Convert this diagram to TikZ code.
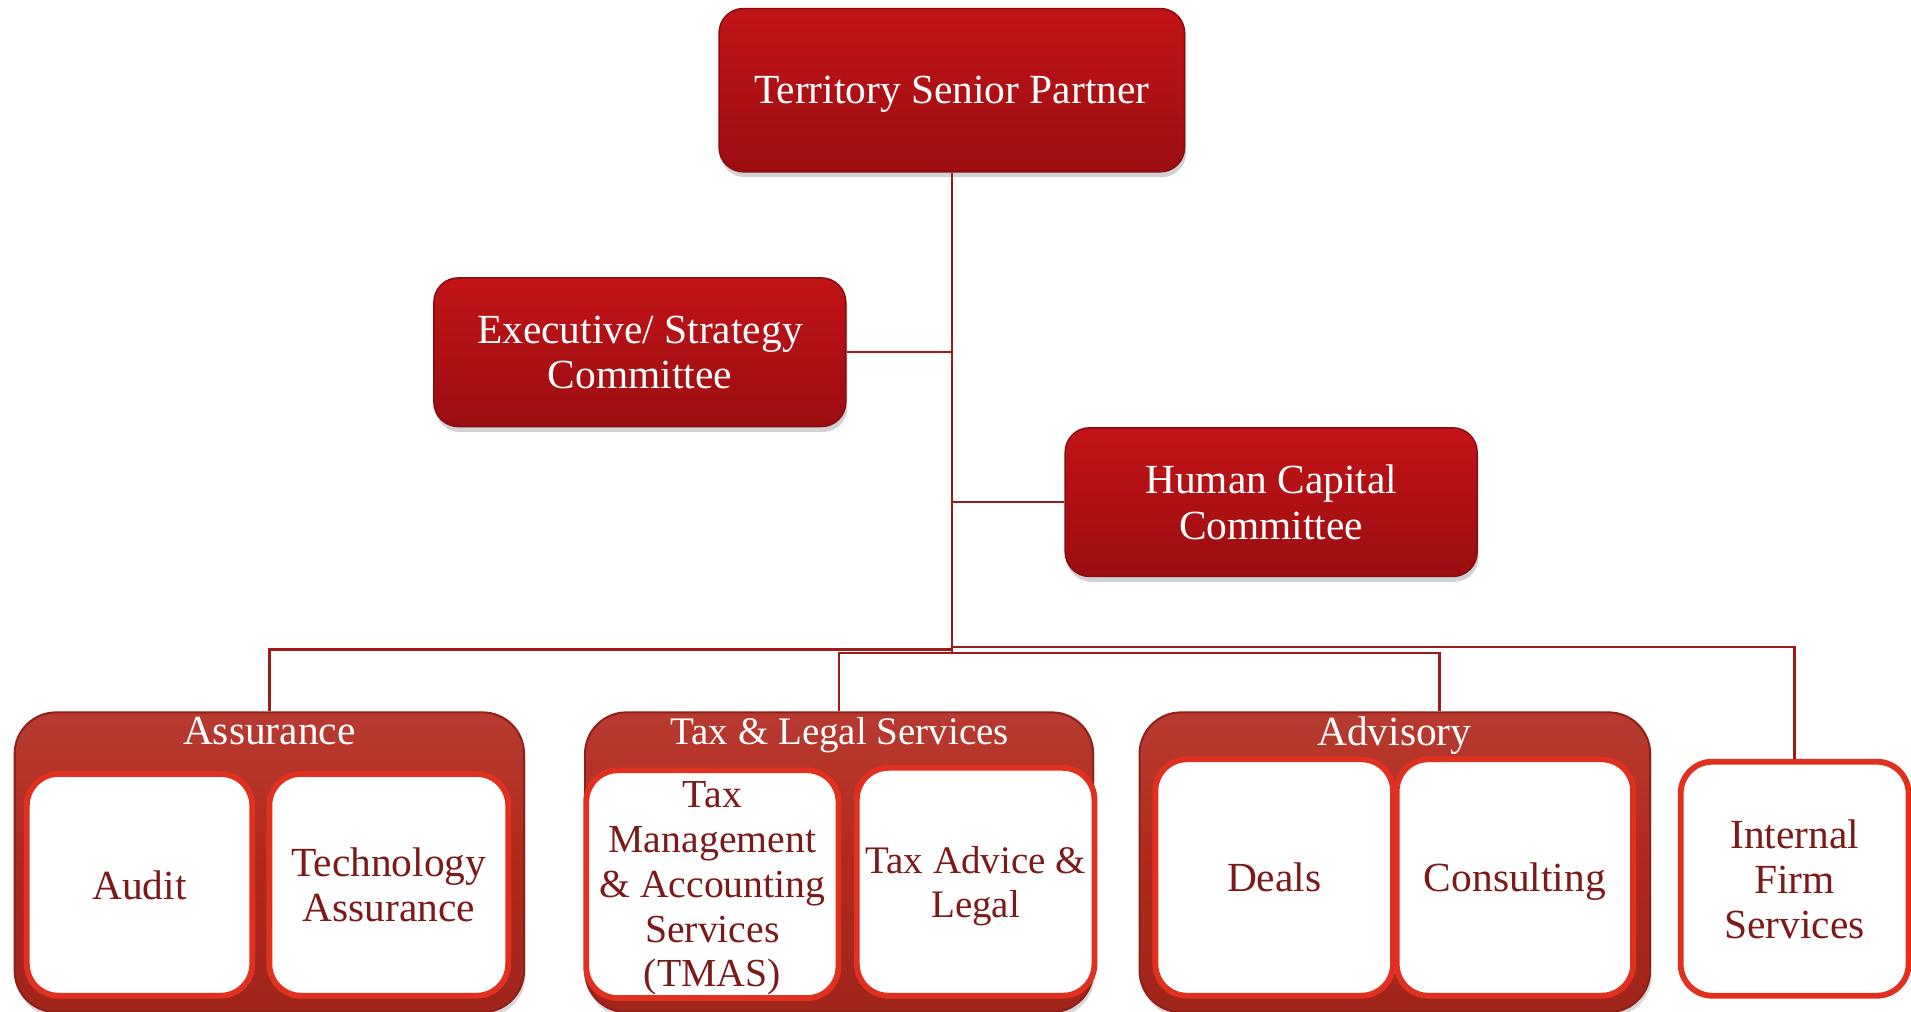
\documentclass[tikz,border=0pt]{standalone}
\usepackage{fontspec}
\setmainfont{Liberation Serif}
\usetikzlibrary{shadows,calc}
\definecolor{redtop}{HTML}{C21418}
\definecolor{redbot}{HTML}{9B0D10}
\definecolor{rededge}{HTML}{8A0B0E}
\definecolor{grpfill}{HTML}{B1291E}
\definecolor{grpedge}{HTML}{8F1F17}
\definecolor{innerred}{HTML}{E0301F}
\definecolor{innertext}{HTML}{7B1A1A}
\definecolor{linecol}{HTML}{9E1B1B}
\tikzset{
  every node/.style={font=\fontsize{17}{18.5}\selectfont, align=center, inner sep=0pt, text depth=0pt},
  redbox/.style={rectangle, rounded corners=10pt, top color=redtop, bottom color=redbot,
    draw=rededge, line width=0.6pt, text=white,
    drop shadow={opacity=0.35, shadow xshift=0.6pt, shadow yshift=-2.2pt}},
  grpbox/.style={rectangle, rounded corners=17pt, top color=grpfill!92!white, bottom color=grpfill!90!black,
    middle color=grpfill, draw=grpedge, line width=0.8pt,
    drop shadow={opacity=0.3, shadow xshift=0.6pt, shadow yshift=-2pt}},
  grptitle/.style={text=white},
  innerbox/.style={rectangle, rounded corners=13pt, fill=white, draw=innerred,
    line width=2.4pt, text=innertext},
  conn/.style={draw=linecol, line width=1pt}
}
\begin{document}
\begin{tikzpicture}[x=0.5pt, y=-0.5pt]
\useasboundingbox (0,0) rectangle (1568,830);
\fill[white] (0,0) rectangle (1568,830);

% top level
\node[redbox, minimum width=191pt, minimum height=67pt] (tsp) at (781,74) {Territory Senior Partner};
\node[redbox, minimum width=169pt, minimum height=61pt] (exec) at (525,289) {Executive/ Strategy\\Committee};
\node[redbox, minimum width=169pt, minimum height=61pt] (hc) at (1043,412) {Human Capital\\Committee};

% groups
\node[grpbox, minimum width=209pt, minimum height=123pt] (assur) at (221,707.5) {};
\node[grpbox, minimum width=208.5pt, minimum height=123pt] (tax) at (688.5,707.5) {};
\node[grpbox, minimum width=209.5pt, minimum height=123pt] (adv) at (1144.5,707.5) {};
\node[grptitle] (assurT) at (221,600) {Assurance};
\node[grptitle, font=\fontsize{16}{18.5}\selectfont] (taxT) at (689,600) {Tax \& Legal Services};
\node[grptitle] (advT) at (1144,600) {Advisory};

% inner boxes
\node[innerbox, minimum width=92.5pt, minimum height=91pt] (audit) at (114.5,726) {Audit};
\node[innerbox, minimum width=98pt, minimum height=91pt] (tech) at (319,726) {Technology\\Assurance};
\node[innerbox, minimum width=103.5pt, minimum height=93.5pt, font=\fontsize{16.3}{18.4}\selectfont] (tmas) at (584.5,725.5) {Tax\\Management\\\& Accounting\\Services\\(TMAS)};
\node[innerbox, minimum width=97.5pt, minimum height=93.5pt, font=\fontsize{16}{18.3}\selectfont] (taxadv) at (800.5,723.5) {Tax Advice \&\\Legal};
\node[innerbox, minimum width=97.5pt, minimum height=97pt] (deals) at (1045.5,720) {Deals};
\node[innerbox, minimum width=97pt, minimum height=97pt] (consult) at (1243,720) {Consulting};
\node[innerbox, minimum width=93.5pt, minimum height=96pt] (ifs) at (1472.5,721) {Internal\\Firm\\Services};

% connectors
\coordinate (busend) at (781,535);
\coordinate (busA) at (781,533);
\coordinate (busI) at (781,531);
\coordinate (busT) at (781,536);
\coordinate (advin) at ($(adv.north)+(36.5,0)$);
\draw[conn] (tsp.south) -- (busend);
\draw[conn] (exec.east) -- (exec.east -| tsp.south);
\draw[conn] (hc.west) -- (hc.west -| tsp.south);
\draw[conn] (busA) -| (assur.north);
\draw[conn] (busI) -| (ifs.north);
\draw[conn] (tax.north) |- (busT) -| (advin);
\end{tikzpicture}
\end{document}
